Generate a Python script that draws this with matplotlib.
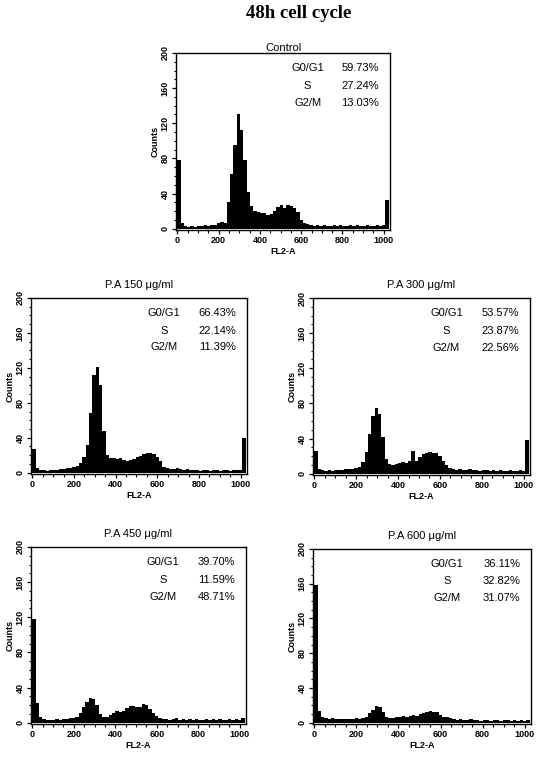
import matplotlib
matplotlib.use("Agg")
import matplotlib.pyplot as plt
import numpy as np
from matplotlib.ticker import MultipleLocator

# FL2-A histogram, 16-channel bins from 0 to 1024
bin_width = 16
control = [78, 6, 3, 2, 3, 2, 3, 3, 4, 3, 4, 4, 6, 8, 7, 30,
           62, 95, 130, 112, 78, 42, 26, 20, 19, 18, 18, 16, 17, 20, 25, 27,
           24, 27, 26, 24, 19, 10, 6, 5, 4, 3, 4, 3, 4, 3, 3, 4,
           3, 4, 3, 3, 4, 3, 4, 3, 3, 4, 3, 3, 4, 3, 4, 33]
pa150 = [27, 5, 3, 3, 2, 3, 3, 3, 4, 4, 5, 5, 6, 8, 11, 18,
         32, 68, 112, 121, 100, 48, 20, 17, 17, 16, 17, 15, 13, 14, 16, 18,
         19, 21, 22, 22, 21, 18, 13, 7, 5, 4, 4, 5, 4, 3, 4, 3,
         3, 3, 2, 3, 3, 2, 3, 3, 2, 3, 3, 2, 3, 3, 3, 40]
pa300 = [26, 5, 4, 3, 4, 3, 4, 4, 4, 5, 5, 5, 6, 8, 13, 25,
         45, 66, 75, 68, 42, 17, 11, 10, 11, 12, 13, 12, 14, 26, 15, 19,
         22, 24, 25, 24, 23, 20, 15, 10, 6, 5, 4, 5, 4, 4, 5, 4,
         4, 3, 4, 4, 3, 4, 3, 4, 3, 3, 4, 3, 3, 4, 3, 38]
pa450 = [118, 22, 6, 4, 3, 3, 3, 4, 3, 4, 4, 5, 5, 6, 11, 18,
         24, 28, 27, 20, 10, 6, 7, 9, 11, 13, 12, 13, 17, 19, 19, 18,
         18, 21, 20, 16, 11, 8, 5, 4, 4, 3, 4, 5, 3, 4, 3, 4,
         3, 4, 3, 3, 4, 3, 4, 3, 4, 3, 3, 4, 3, 4, 3, 5]
pa600 = [158, 14, 6, 5, 4, 5, 4, 4, 4, 4, 4, 4, 5, 4, 5, 7,
         11, 15, 19, 18, 12, 7, 5, 5, 6, 6, 8, 7, 8, 9, 8, 10,
         11, 12, 13, 12, 12, 9, 7, 6, 5, 4, 3, 4, 3, 3, 4, 3,
         3, 2, 3, 3, 2, 3, 3, 2, 3, 3, 2, 3, 2, 3, 2, 3]

titles = ["Control", "P.A 150 \u03bcg/ml", "P.A 300 \u03bcg/ml",
          "P.A 450 \u03bcg/ml", "P.A 600 \u03bcg/ml"]
phase_labels = ["G0/G1", "S", "G2/M"]
phase_pct = [["59.73%", "27.24%", "13.03%"],
             ["66.43%", "22.14%", "11.39%"],
             ["53.57%", "23.87%", "22.56%"],
             ["39.70%", "11.59%", "48.71%"],
             ["36.11%", "32.82%", "31.07%"]]
series = [control, pa150, pa300, pa450, pa600]

plt.rcParams["font.family"] = ["Liberation Sans", "DejaVu Sans"]

W, H = 540, 759
fig = plt.figure(figsize=(W / 100, H / 100), dpi=100)

# axes boxes in pixels: left, top, right, bottom
boxes = [(176, 53, 390, 230),
         (31, 298, 247, 474),
         (313, 298, 530, 475),
         (31, 547, 246, 724),
         (313, 549, 531, 724)]
title_pads = [1, 7, 7, 7, 7]

edges = np.arange(0, 1024 + bin_width, bin_width)

for k, (l, t, r, b) in enumerate(boxes):
    ax = fig.add_axes([l / W, 1 - b / H, (r - l) / W, (b - t) / H])
    ax.stairs(series[k], edges, fill=True, color="black", baseline=0)
    ax.set_xlim(-6, 1030)
    ax.set_ylim(-1.5, 200)
    ax.xaxis.set_major_locator(MultipleLocator(200))
    ax.xaxis.set_minor_locator(MultipleLocator(50))
    ax.yaxis.set_major_locator(MultipleLocator(40))
    ax.yaxis.set_minor_locator(MultipleLocator(10))
    ax.tick_params(which="major", direction="out", length=3, width=0.9,
                   labelsize=6.5, pad=1.5)
    ax.tick_params(which="minor", direction="out", length=1.8, width=0.8)
    for lab in ax.get_xticklabels():
        lab.set_fontweight("bold")
    for lab in ax.get_yticklabels():
        lab.set_fontweight("bold")
        lab.set_rotation(90)
        lab.set_va("center")
    for sp in ax.spines.values():
        sp.set_linewidth(1.0)
    ax.set_xlabel("FL2-A", fontsize=6.5, fontweight="bold", labelpad=1)
    ax.set_ylabel("Counts", fontsize=6.5, fontweight="bold", labelpad=1)
    ax.set_title(titles[k], fontsize=8, pad=title_pads[k])
    rows = [0.915, 0.815, 0.72]
    for j in range(3):
        ax.text(0.615, rows[j], phase_labels[j], transform=ax.transAxes,
                fontsize=8, ha="center", va="center")
        ax.text(0.95, rows[j], phase_pct[k][j], transform=ax.transAxes,
                fontsize=8, ha="right", va="center")

fig.text(299 / W, 1 - 14 / H, "48h cell cycle", fontsize=13.5, fontweight="bold",
         family=["Liberation Serif", "DejaVu Serif"], ha="center", va="center")

fig.savefig("out.png", dpi=100)
